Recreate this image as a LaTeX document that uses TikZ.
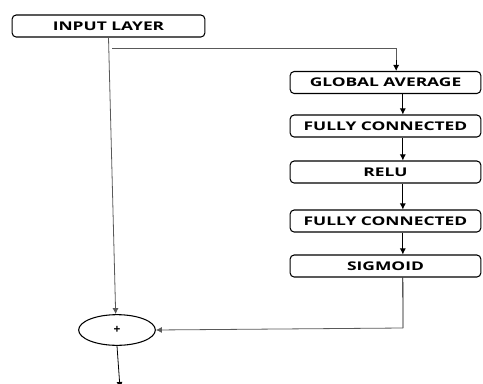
\documentclass[tikz,border=0pt]{standalone}
\usepackage{fontspec}
\setmainfont{Open Sans}
\newfontfamily\widefont[FakeStretch=1.45]{Open Sans}
\usetikzlibrary{shapes.geometric,arrows.meta}

\begin{document}
\begin{tikzpicture}[x=0.75pt, y=-0.75pt, >={Latex[length=4.5pt,width=4.5pt]},
    layer/.style={draw, rounded corners=3pt, line width=0.8pt, minimum width=143pt, minimum height=16.5pt, inner sep=0pt, font=\widefont\fontsize{9}{9}\selectfont\bfseries},
    link/.style={->, line width=0.6pt},
    glink/.style={->, line width=0.6pt, black!65}]

    % Frame of the picture
    \clip (0,0) rectangle (483,383);

    % Define the input and the merge (left side)
    \node[layer, minimum width=144.5pt] (input) at (108.5, 26) {INPUT LAYER};
    \node[ellipse, draw, line width=0.8pt, minimum width=57.5pt, minimum height=23pt, inner sep=0pt, font=\fontsize{9}{9}\selectfont\bfseries] (plus) at (117, 330) {+};
    \coordinate (split) at (112, 48);
    \coordinate (turn) at (403, 328);
    \coordinate (out) at (120, 388);

    % Define the squeeze branch (right side)
    \node[layer] (avg) at (385.5, 82.5) {GLOBAL AVERAGE};
    \node[layer] (fc1) at (385.5, 126) {FULLY CONNECTED};
    \node[layer] (relu) at (385.5, 172) {RELU};
    \node[layer] (fc2) at (385.5, 221) {FULLY CONNECTED};
    \node[layer] (sig) at (385.5, 266) {SIGMOID};

    % Draw the skip connection
    \draw[glink] (input.south) -- ([xshift=-1pt]plus.north);
    \draw[glink, -] (split) -| ([xshift=8pt, yshift=8pt]avg.north);
    \draw[link] ([xshift=8pt, yshift=8pt]avg.north) -- ([xshift=8pt]avg.north);

    % Draw the branch
    \draw[link] ([xshift=13pt]avg.south) -- ([xshift=13pt]fc1.north);
    \draw[link] ([xshift=13pt]fc1.south) -- ([xshift=13pt]relu.north);
    \draw[link] ([xshift=13pt]relu.south) -- ([xshift=13pt]fc2.north);
    \draw[link] ([xshift=13pt]fc2.south) -- ([xshift=13pt]sig.north);
    \draw[link, -] ([xshift=13pt]sig.south) -- (turn);
    \draw[glink] (turn) -- (plus.east);

    % Draw the output
    \draw[link] (plus.south) -- (out);

\end{tikzpicture}
\end{document}
